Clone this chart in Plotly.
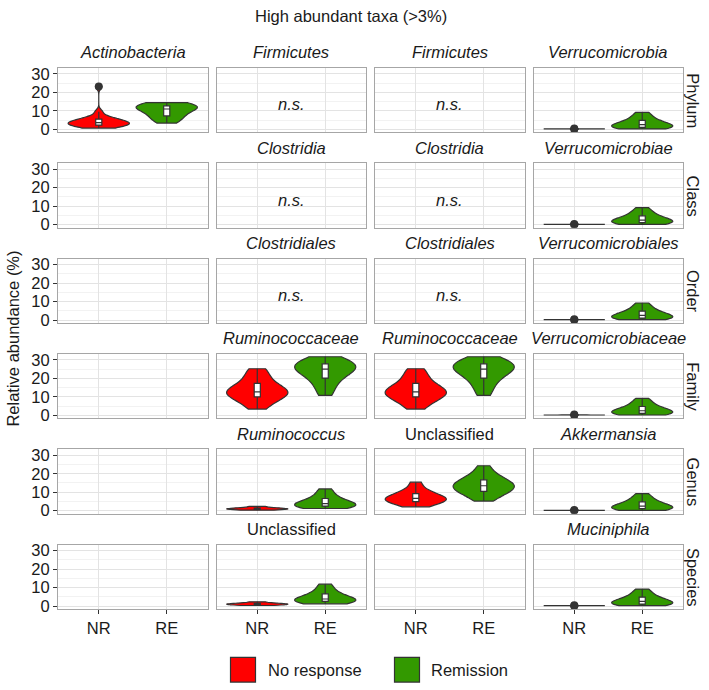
import plotly.graph_objects as go

W, H = 709, 690

# ---- data (hand-read sample values, relative abundance %) ----
groups = ["NR", "RE"]
group_names = ["No response", "Remission"]
row_labels = ["Phylum", "Class", "Order", "Family", "Genus", "Species"]

actino_nr = [0.7, 1.0, 1.5, 2.0, 2.3, 2.6, 3.0, 3.2, 3.5, 3.8, 4.2, 4.6, 5.0, 5.5, 6.0, 7.0, 9.5, 23.2]
actino_re = [3.4, 5.0, 6.5, 7.5, 9.0, 10.0, 11.0, 11.8, 12.2, 12.6, 13.0, 13.5, 14.4]
verruco_nr = [0.0, 0.2, 0.2, 0.2, 0.2, 0.2, 0.2, 0.2, 0.4]
verruco_re = [0.2, 0.5, 0.8, 1.0, 1.3, 1.6, 2.0, 2.5, 3.0, 3.6, 4.2, 5.0, 6.2, 7.5, 9.2]
rumfam_nr = [3.4, 6.0, 8.0, 9.5, 10.5, 11.5, 12.0, 12.5, 13.0, 14.0, 15.0, 16.5, 18.0, 20.5, 23.0, 25.2]
rumfam_re = [10.8, 14.0, 17.0, 19.3, 21.0, 22.5, 23.5, 24.5, 25.5, 26.2, 26.8, 27.5, 28.2, 29.0, 30.0, 31.7]
rumgen_nr = [0.3, 0.6, 0.8, 1.0, 1.1, 1.3, 1.6, 2.3]
rumgen_re = [1.2, 1.8, 2.2, 2.6, 3.0, 3.3, 3.8, 4.5, 5.3, 6.3, 7.5, 9.5, 11.8]
uncgen_nr = [2.1, 3.5, 4.5, 5.0, 5.6, 6.2, 6.7, 7.3, 8.0, 9.0, 10.0, 12.0, 15.4]
uncgen_re = [5.2, 8.0, 9.0, 10.2, 11.2, 12.0, 12.8, 13.5, 14.2, 15.0, 15.8, 17.0, 18.5, 20.5, 24.3]

# panels: (row, col, title, italic, nr_values, re_values, not_significant)
panels = [
    (0, 0, "Actinobacteria", True, actino_nr, actino_re, False),
    (0, 1, "Firmicutes", True, None, None, True),
    (0, 2, "Firmicutes", True, None, None, True),
    (0, 3, "Verrucomicrobia", True, verruco_nr, verruco_re, False),
    (1, 0, "", True, None, None, False),
    (1, 1, "Clostridia", True, None, None, True),
    (1, 2, "Clostridia", True, None, None, True),
    (1, 3, "Verrucomicrobiae", True, verruco_nr, verruco_re, False),
    (2, 0, "", True, None, None, False),
    (2, 1, "Clostridiales", True, None, None, True),
    (2, 2, "Clostridiales", True, None, None, True),
    (2, 3, "Verrucomicrobiales", True, verruco_nr, verruco_re, False),
    (3, 0, "", True, None, None, False),
    (3, 1, "Ruminococcaceae", True, rumfam_nr, rumfam_re, False),
    (3, 2, "Ruminococcaceae", True, rumfam_nr, rumfam_re, False),
    (3, 3, "Verrucomicrobiaceae", True, verruco_nr, verruco_re, False),
    (4, 0, "", True, None, None, False),
    (4, 1, "Ruminococcus", True, rumgen_nr, rumgen_re, False),
    (4, 2, "Unclassified", False, uncgen_nr, uncgen_re, False),
    (4, 3, "Akkermansia", True, verruco_nr, verruco_re, False),
    (5, 0, "", True, None, None, False),
    (5, 1, "Unclassified", False, rumgen_nr, rumgen_re, False),
    (5, 2, "", True, None, None, False),
    (5, 3, "Muciniphila", True, verruco_nr, verruco_re, False),
]

y_ticks = [0, 10, 20, 30]

# ---- styling ----
FONT = "Liberation Sans, Arial, Helvetica, sans-serif"
FS = 16.5
TXT = "#1a1a1a"
colors = ["#FF0000", "#339900"]
outline = "#333333"
border = "#A6A6A6"
grid_major = "#E3E3E3"
grid_minor = "#F2F2F2"

col_x0 = [58, 216.5, 375, 533.5]
col_w = 149.5
row_y0 = [66 + 96.6 * i for i in range(6)]
row_h = 65


def px(x):
    return x / W


def py(y):
    return 1 - y / H


fig = go.Figure()
annotations = []
shapes = []

for idx, (r, c, title, italic, nrv, rev, ns) in enumerate(panels):
    n = idx + 1
    xa = "xaxis" if n == 1 else f"xaxis{n}"
    ya = "yaxis" if n == 1 else f"yaxis{n}"
    xref = "x" if n == 1 else f"x{n}"
    yref = "y" if n == 1 else f"y{n}"
    x0 = px(col_x0[c])
    x1 = px(col_x0[c] + col_w)
    y1 = py(row_y0[r])
    y0 = py(row_y0[r] + row_h)
    bottom = r == 5
    left = c == 0
    fig.layout[xa] = dict(
        domain=[x0, x1], anchor=yref, range=[0.4, 2.6],
        tickvals=[1, 2], ticktext=groups,
        showticklabels=bottom, ticks="outside" if bottom else "",
        ticklen=4, tickcolor=outline, tickwidth=1,
        showgrid=True, gridcolor=grid_major, gridwidth=1,
        showline=True, mirror=True, linecolor=border, linewidth=1,
        zeroline=False, fixedrange=True,
        tickfont=dict(family=FONT, size=FS, color=TXT),
    )
    fig.layout[ya] = dict(
        domain=[y0, y1], anchor=xref, range=[-1.6, 33.1],
        tickvals=y_ticks, showticklabels=left,
        ticks="outside" if left else "", ticklen=4, tickcolor=outline, tickwidth=1,
        showgrid=True, gridcolor=grid_major, gridwidth=1,
        minor=dict(dtick=5, tick0=0, showgrid=True, gridcolor=grid_minor, ticks=""),
        showline=True, mirror=True, linecolor=border, linewidth=1,
        zeroline=False, fixedrange=True,
        tickfont=dict(family=FONT, size=FS, color=TXT),
    )
    has_data = False
    for gi, vals in enumerate([nrv, rev]):
        if vals is None:
            continue
        has_data = True
        fig.add_trace(go.Violin(
            x=[gi + 1] * len(vals), y=vals, xaxis=xref, yaxis=yref,
            width=0.9, scalemode="width", spanmode="hard",
            fillcolor=colors[gi], line=dict(color=outline, width=1.2),
            opacity=1,
            box=dict(visible=True, width=0.1, fillcolor="white",
                     line=dict(color=outline, width=1.2)),
            meanline=dict(visible=False),
            points="outliers",
            marker=dict(color=outline, size=8, line=dict(width=0)),
            showlegend=False, hoverinfo="skip",
        ))
    if not has_data:
        # invisible placeholder so the empty facet is still drawn
        fig.add_trace(go.Scatter(
            x=[1, 2], y=[0, 0], xaxis=xref, yaxis=yref, mode="markers",
            marker=dict(opacity=0), showlegend=False, hoverinfo="skip",
        ))
    if title:
        annotations.append(dict(
            x=(x0 + x1) / 2, y=py(row_y0[r] - 16), xref="paper", yref="paper",
            text=f"<i>{title}</i>" if italic else title, showarrow=False,
            font=dict(family=FONT, size=FS, color=TXT),
            xanchor="center", yanchor="middle",
        ))
    if ns:
        annotations.append(dict(
            x=1.5, y=13.5, xref=xref, yref=yref, text="<i>n.s.</i>",
            showarrow=False, font=dict(family=FONT, size=FS, color=TXT),
        ))

# row strip labels on the right
for r, lab in enumerate(row_labels):
    annotations.append(dict(
        x=px(693), y=py(row_y0[r] + row_h / 2), xref="paper", yref="paper",
        text=lab, textangle=90, showarrow=False,
        font=dict(family=FONT, size=FS, color=TXT),
        xanchor="center", yanchor="middle",
    ))

# overall title and y-axis title
annotations.append(dict(
    x=px(351), y=py(13), xref="paper", yref="paper",
    text="High abundant taxa (>3%)", showarrow=False,
    font=dict(family=FONT, size=FS, color=TXT),
    xanchor="center", yanchor="middle",
))
annotations.append(dict(
    x=px(13), y=py(340), xref="paper", yref="paper",
    text="Relative abundance (%)", textangle=-90, showarrow=False,
    font=dict(family=FONT, size=FS, color=TXT),
    xanchor="center", yanchor="middle",
))

# legend keys
legend_x = [230.5, 394.5]
for gi, name in enumerate(group_names):
    shapes.append(dict(
        type="rect", xref="paper", yref="paper",
        x0=px(legend_x[gi]), x1=px(legend_x[gi] + 25),
        y0=py(688), y1=py(663),
        fillcolor=colors[gi], line=dict(color=outline, width=1.2),
    ))
    annotations.append(dict(
        x=px(legend_x[gi] + 35), y=py(675.5), xref="paper", yref="paper",
        text=name, showarrow=False, xanchor="left", yanchor="middle",
        font=dict(family=FONT, size=FS, color=TXT),
    ))

fig.update_layout(
    width=W, height=H, margin=dict(l=0, r=0, t=0, b=0),
    paper_bgcolor="white", plot_bgcolor="white",
    violinmode="overlay", showlegend=False,
    annotations=annotations, shapes=shapes,
    font=dict(family=FONT),
)

# remove the default 8px page margin so the figure fills the window exactly
fig.write_html("out.html", config={"displayModeBar": False},
               post_script="document.body.style.margin='0px';")
